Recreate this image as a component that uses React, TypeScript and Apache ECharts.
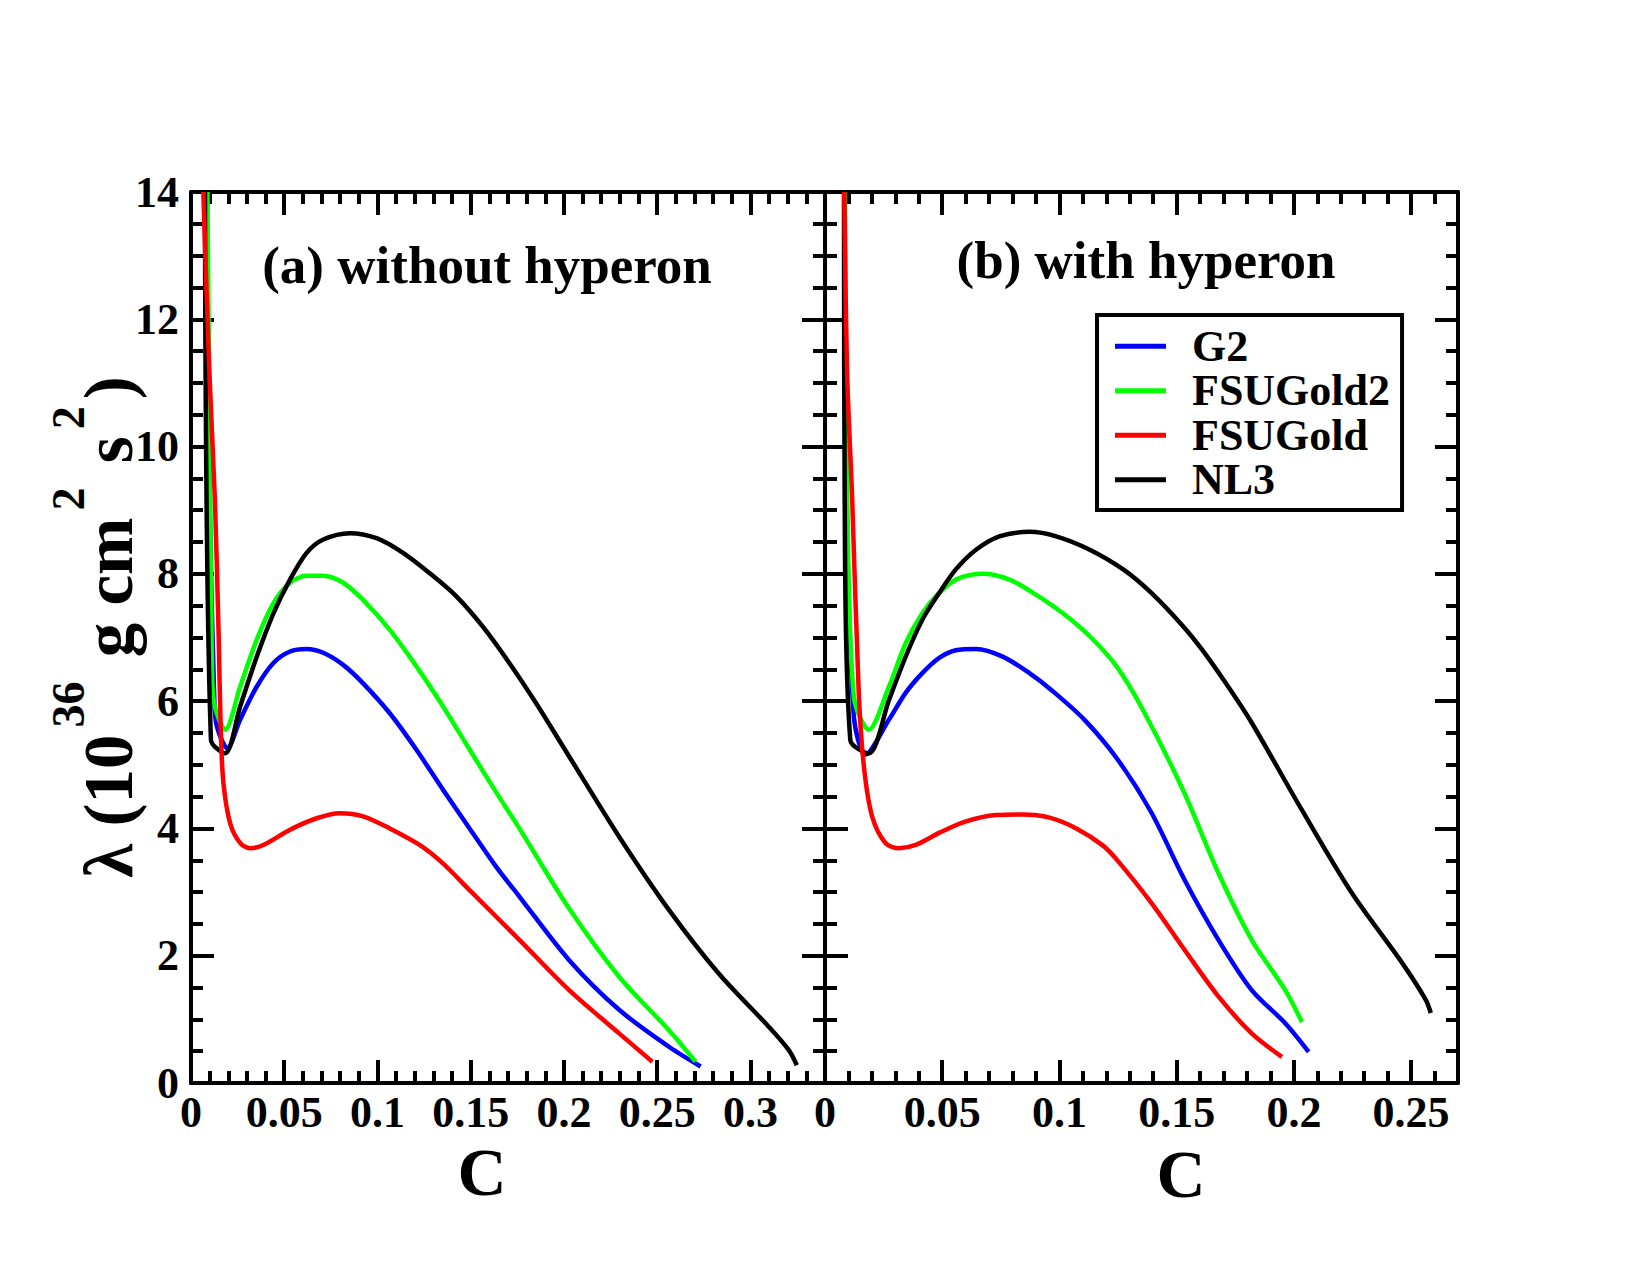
import React, { useEffect, useRef } from 'react';
import * as echarts from 'echarts';

// ---------- data ----------
const MODEL_NAMES = ['G2', 'FSUGold2', 'FSUGold', 'NL3'];
const MODEL_COLORS = ['#0000ff', '#00ff00', '#ff0000', '#000000'];

const X_TICKS_A = [0, 0.05, 0.1, 0.15, 0.2, 0.25, 0.3];
const X_TICKS_B = [0, 0.05, 0.1, 0.15, 0.2, 0.25];
const Y_TICKS = [0, 2, 4, 6, 8, 10, 12, 14];

// panel (a): without hyperon  [C, lambda]
const G2_A = [[0.0085, 14], [0.0100, 9.17], [0.0125, 6.0], [0.0139, 5.6], [0.0195, 5.26], [0.0264, 5.71], [0.0353, 6.23], [0.0442, 6.60], [0.0531, 6.78], [0.062, 6.82], [0.0709, 6.76], [0.0816, 6.57], [0.0923, 6.28], [0.1066, 5.81], [0.1208, 5.24], [0.1351, 4.61], [0.1494, 4.0], [0.1636, 3.40], [0.1761, 2.93], [0.2028, 1.93], [0.2296, 1.15], [0.2563, 0.57], [0.2733, 0.26]];
const FSUGOLD2_A = [[0.0088, 14], [0.0103, 9.17], [0.0112, 6.6], [0.0125, 5.95], [0.0183, 5.55], [0.0264, 6.23], [0.0353, 6.97], [0.0442, 7.54], [0.0531, 7.86], [0.062, 7.97], [0.0709, 7.97], [0.0816, 7.86], [0.0923, 7.59], [0.1066, 7.12], [0.1208, 6.55], [0.1351, 5.92], [0.1494, 5.24], [0.1636, 4.57], [0.1761, 4.0], [0.2028, 2.74], [0.2296, 1.67], [0.2563, 0.83], [0.2706, 0.335]];
const FSUGOLD_A = [[0.0066, 14], [0.0098, 11.2], [0.0128, 9.17], [0.0148, 7.07], [0.016, 5.5], [0.0174, 4.71], [0.021, 4.08], [0.0264, 3.77], [0.0317, 3.69], [0.0388, 3.74], [0.0531, 3.98], [0.0674, 4.16], [0.0798, 4.24], [0.0923, 4.19], [0.1066, 4.0], [0.1226, 3.74], [0.1351, 3.45], [0.1494, 3.03], [0.1761, 2.25], [0.2028, 1.46], [0.2296, 0.78], [0.2474, 0.335]];
const NL3_A = [[0.0075, 14], [0.0107, 5.39], [0.0183, 5.18], [0.0264, 5.92], [0.0353, 6.70], [0.0442, 7.38], [0.0531, 7.91], [0.062, 8.33], [0.0709, 8.54], [0.0852, 8.64], [0.0995, 8.56], [0.1137, 8.33], [0.128, 8.01], [0.1422, 7.65], [0.1565, 7.17], [0.1707, 6.60], [0.185, 5.97], [0.2028, 5.13], [0.2296, 3.87], [0.2563, 2.72], [0.283, 1.72], [0.3098, 0.885], [0.3205, 0.52], [0.3249, 0.28]];

// panel (b): with hyperon
const G2_B = [[0.0083, 14], [0.0092, 9.17], [0.0123, 5.76], [0.0173, 5.16], [0.0273, 5.71], [0.0344, 6.13], [0.0415, 6.44], [0.0487, 6.68], [0.0558, 6.80], [0.0644, 6.82], [0.0758, 6.70], [0.0872, 6.44], [0.0964, 6.18], [0.1106, 5.71], [0.1249, 5.08], [0.1392, 4.25], [0.1534, 3.19], [0.1678, 2.25], [0.182, 1.46], [0.1963, 0.94], [0.2063, 0.49]];
const FSUGOLD2_B = [[0.0085, 14], [0.0095, 9.17], [0.0123, 6.07], [0.0187, 5.55], [0.0273, 6.23], [0.0344, 6.91], [0.0415, 7.38], [0.0487, 7.70], [0.0558, 7.91], [0.0672, 8.0], [0.0787, 7.91], [0.0901, 7.67], [0.1015, 7.38], [0.1129, 7.02], [0.1243, 6.55], [0.1358, 5.85], [0.153, 4.58], [0.1678, 3.30], [0.182, 2.25], [0.1963, 1.46], [0.2034, 0.96]];
const FSUGOLD_B = [[0.0082, 14], [0.0094, 11.2], [0.0116, 9.17], [0.0144, 6.13], [0.0166, 4.97], [0.0201, 4.19], [0.0258, 3.77], [0.0316, 3.69], [0.0387, 3.74], [0.0487, 3.93], [0.0601, 4.11], [0.0729, 4.21], [0.0844, 4.22], [0.0958, 4.17], [0.1072, 4.0], [0.1186, 3.73], [0.1249, 3.49], [0.1392, 2.83], [0.1534, 2.09], [0.1678, 1.36], [0.182, 0.78], [0.1949, 0.41]];
const NL3_B = [[0.0081, 14], [0.0084, 9.17], [0.0108, 5.39], [0.0187, 5.18], [0.0273, 6.02], [0.0344, 6.70], [0.0415, 7.28], [0.0487, 7.70], [0.0558, 8.07], [0.0644, 8.38], [0.0744, 8.59], [0.0872, 8.66], [0.0986, 8.59], [0.1129, 8.38], [0.1272, 8.07], [0.1392, 7.70], [0.1529, 7.17], [0.1606, 6.82], [0.171, 6.28], [0.182, 5.66], [0.2034, 4.29], [0.2248, 2.98], [0.2463, 1.88], [0.2562, 1.31], [0.2584, 1.10]];

const PANEL_TITLES = ['(a) without hyperon', '(b) with hyperon'];
const X_TITLE = 'C';

const FONT = '"Liberation Serif", "Times New Roman", serif';

function buildOption() {
  const grids = [
    { left: 191, top: 192, width: 634, height: 891, xMax: 0.34, ticks: X_TICKS_A },
    { left: 825, top: 192, width: 633, height: 891, xMax: 0.27, ticks: X_TICKS_B },
  ];
  const labelStyle = { fontFamily: FONT, fontWeight: 'bold', fontSize: 44, color: '#000' };
  const xAxes: any[] = [];
  const yAxes: any[] = [];
  grids.forEach((g, gi) => {
    const base = { type: 'value', gridIndex: gi, min: 0, max: g.xMax, splitLine: { show: false } };
    const majorTickSet = new Set(g.ticks.map((t) => t.toFixed(2)));
    ['bottom', 'top'].forEach((pos) => {
      xAxes.push({
        ...base,
        position: pos,
        interval: 0.05,
        axisLine: { show: true, onZero: false, lineStyle: { color: '#000', width: 4 } },
        axisTick: { show: true, inside: true, length: 23, lineStyle: { color: '#000', width: 4 } },
        axisLabel: {
          show: pos === 'bottom',
          margin: 7,
          ...labelStyle,
          showMaxLabel: false,
          formatter: (v: number) => (majorTickSet.has(v.toFixed(2)) ? String(+v.toFixed(2)) : ''),
        },
      });
      xAxes.push({
        ...base,
        position: pos,
        interval: 0.01,
        axisLine: { show: false, onZero: false },
        axisTick: { show: true, inside: true, length: 12, lineStyle: { color: '#000', width: 4 } },
        axisLabel: { show: false },
      });
    });
    ['left', 'right'].forEach((pos) => {
      yAxes.push({
        type: 'value',
        gridIndex: gi,
        position: pos,
        min: 0,
        max: 14,
        interval: 2,
        splitLine: { show: false },
        axisLine: { show: true, onZero: false, lineStyle: { color: '#000', width: 4 } },
        axisTick: { show: true, inside: true, length: 23, lineStyle: { color: '#000', width: 4 } },
        minorTick: { show: true, splitNumber: 4, length: 12, lineStyle: { color: '#000', width: 4 } },
        axisLabel: {
          show: gi === 0 && pos === 'left',
          margin: 12,
          ...labelStyle,
          formatter: (v: number) => (Y_TICKS.includes(v) ? String(v) : ''),
        },
      });
    });
  });

  const panelData = [
    { G2: G2_A, FSUGold2: FSUGOLD2_A, FSUGold: FSUGOLD_A, NL3: NL3_A },
    { G2: G2_B, FSUGold2: FSUGOLD2_B, FSUGold: FSUGOLD_B, NL3: NL3_B },
  ];
  const drawOrder = ['G2', 'FSUGold2', 'NL3', 'FSUGold'];
  const series: any[] = [];
  panelData.forEach((pd: any, gi) => {
    drawOrder.forEach((name) => {
      const color = MODEL_COLORS[MODEL_NAMES.indexOf(name)];
      series.push({
        type: 'line',
        name,
        xAxisIndex: gi * 4,
        yAxisIndex: gi * 2,
        data: pd[name],
        showSymbol: false,
        symbol: 'none',
        clip: true,
        smooth: 0.3,
        color,
        lineStyle: { color, width: 4.5 },
      });
    });
  });

  const graphic: any[] = [
    {
      type: 'text', x: 487, y: 265,
      style: { text: PANEL_TITLES[0], font: `bold 53px ${FONT}`, fill: '#000', align: 'center', verticalAlign: 'middle' },
    },
    {
      type: 'text', x: 1146, y: 260,
      style: { text: PANEL_TITLES[1], font: `bold 53px ${FONT}`, fill: '#000', align: 'center', verticalAlign: 'middle' },
    },
    {
      type: 'text', x: 482, y: 1172,
      style: { text: X_TITLE, font: `bold 68px ${FONT}`, fill: '#000', align: 'center', verticalAlign: 'middle' },
    },
    {
      type: 'text', x: 1181, y: 1174,
      style: { text: X_TITLE, font: `bold 68px ${FONT}`, fill: '#000', align: 'center', verticalAlign: 'middle' },
    },
    {
      type: 'text', x: 94, y: 627, rotation: Math.PI / 2,
      style: {
        text: '{m|λ (10}{s|36}{m| g cm}{s|2}{m| s}{s|2}{m|)}',
        align: 'center', verticalAlign: 'middle', fill: '#000',
        rich: {
          m: { fontFamily: FONT, fontWeight: 'bold', fontSize: 69, lineHeight: 98, verticalAlign: 'bottom', fill: '#000' },
          s: { fontFamily: FONT, fontWeight: 'bold', fontSize: 46, lineHeight: 46, verticalAlign: 'top', fill: '#000', padding: [0, 7, 0, 7] },
        },
      },
    },
  ];

  return {
    animation: false,
    backgroundColor: '#fff',
    grid: grids.map((g) => ({ left: g.left, top: g.top, width: g.width, height: g.height, show: false })),
    xAxis: xAxes,
    yAxis: yAxes,
    legend: {
      data: MODEL_NAMES,
      orient: 'vertical',
      left: 1097,
      top: 315,
      padding: [9, 12, 8, 18],
      itemGap: 0,
      itemWidth: 51,
      itemHeight: 5,
      icon: 'rect',
      selectedMode: false,
      borderColor: '#000',
      borderWidth: 4,
      backgroundColor: '#fff',
      textStyle: { fontFamily: FONT, fontWeight: 'bold', fontSize: 44, lineHeight: 44.5, color: '#000', padding: [0, 0, 0, 21] },
    },
    series,
    graphic,
  };
}

export default function App() {
  const ref = useRef<HTMLDivElement>(null);
  useEffect(() => {
    if (!ref.current) return;
    const chart = echarts.init(ref.current, undefined, { renderer: 'svg' });
    chart.setOption(buildOption() as any);
    return () => chart.dispose();
  }, []);
  return (
    <div
      ref={ref}
      style={{ position: 'absolute', left: 0, top: 0, width: 1650, height: 1275, background: '#fff' }}
    />
  );
}
